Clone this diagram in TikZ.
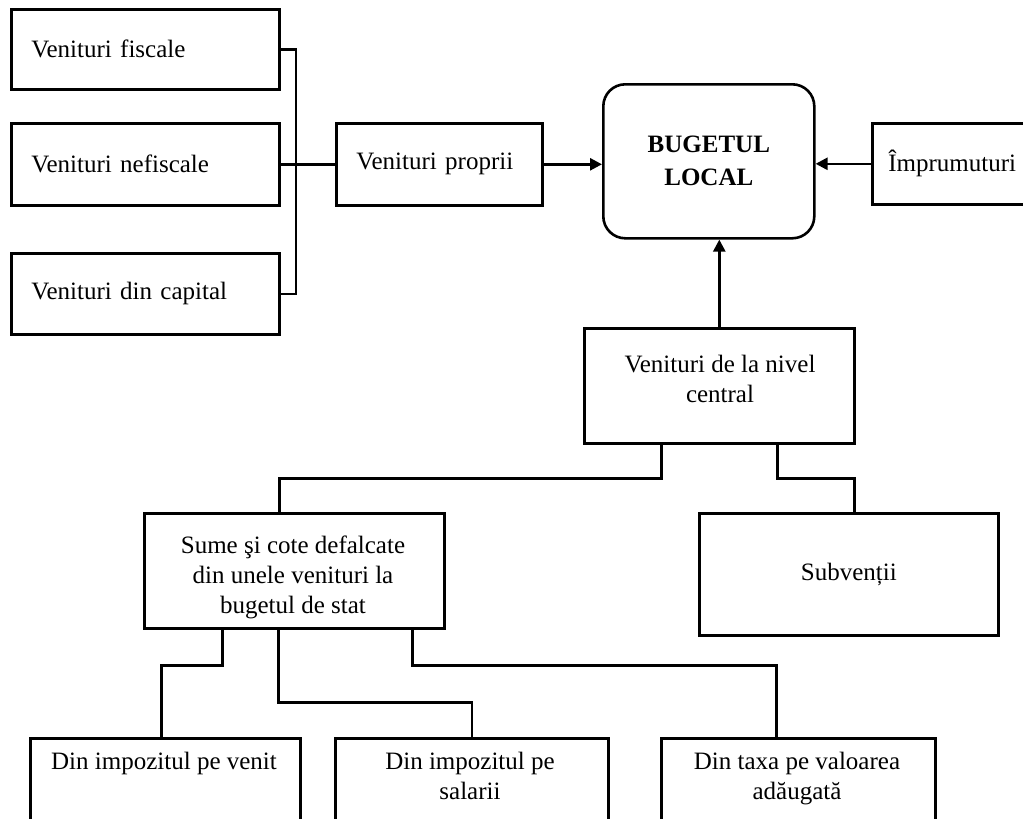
\documentclass[tikz,border=0pt]{standalone}
\usepackage{fontspec}
\setmainfont{Liberation Serif}
\usetikzlibrary{arrows.meta}

\tikzset{
	lbox/.style={draw, anchor=north west, inner xsep=10pt, inner ysep=0pt, align=left},
	rbox/.style={draw, anchor=north west, inner sep=0pt},
	txt/.style={inner sep=0pt, align=center}
}

\begin{document}
\begin{tikzpicture}[x=0.5pt, y=-0.5pt, line width=1.3pt, font=\fontsize{12.5}{15}\selectfont]
	\def\tw{114pt};
	\useasboundingbox (0,0) rectangle (1023,819);

	% venituri proprii
	\node [lbox, text width=\tw, minimum height=40pt] (fisc) at (10,8) {Venituri fiscale};
	\node [lbox, text width=\tw, minimum height=41pt] (nefisc) at (10,122) {Venituri nefiscale};
	\node [lbox, text width=\tw, minimum height=40.5pt] (capital) at (10,252) {Venituri din capital};
	\node [lbox, text width=83pt, minimum height=41pt] (proprii) at (335,122) {Venituri proprii};
	\coordinate (bus) at (296,162);

	\draw (fisc.east) -| (bus);
	\draw (capital.east) -| (bus);
	\draw (nefisc.east) -- (proprii.west);

	% bugetul local
	\node [rbox, rounded corners=11pt, minimum width=105.5pt, minimum height=77pt, align=center,
		font=\fontsize{12.5}{16.5}\selectfont\bfseries] (buget) at (602,83) {BUGETUL\\LOCAL};
	\node [lbox, inner xsep=8pt, text width=90pt, minimum height=40.5pt] (impr) at (871,122) {Împrumuturi};

	% nivel central
	\node [rbox, minimum width=135pt, minimum height=57.5pt] (central) at (583,327) {};
	\node [txt] (centralT) at (720,379) {Venituri de la nivel\\central};
	\node [rbox, minimum width=150pt, minimum height=57.5pt] (sume) at (143,512) {};
	\node [txt] (sumeT) at (293,577) {Sume şi cote defalcate\\din unele venituri la\\bugetul de stat};
	\node [rbox, minimum width=149.5pt, minimum height=61pt] (subv) at (698,512) {Subvenții};

	\begin{scope}[-{Triangle[length=6pt, width=6pt]}]
		\draw (proprii.east) -- (proprii.east -| buget.west);
		\draw (impr.west) -- (impr.west -| buget.east);
		\draw (central.north) -- (central.north |- buget.south);
	\end{scope}

	\draw ([xshift=-29pt]central.south) -- ++(0,34) -| ([xshift=-7.5pt]sume.north);
	\draw ([xshift=29pt]central.south) -- ++(0,34) -| ([xshift=2.75pt]subv.north);

	% sume defalcate
	\node [rbox, minimum width=135pt, minimum height=50pt] (venit) at (29,737) {};
	\node [txt, anchor=north] (venitT) at (164,751) {Din impozitul pe venit};
	\node [rbox, minimum width=136.5pt, minimum height=50pt] (salarii) at (334,737) {};
	\node [txt, anchor=north] (salariiT) at (470,751) {Din impozitul pe\\salarii};
	\node [rbox, minimum width=137pt, minimum height=50pt] (taxa) at (660,737) {};
	\node [txt, anchor=north] (taxaT) at (797,751) {Din taxa pe valoarea\\adăugată};

	\draw ([xshift=-36pt]sume.south) -- ++(0,36) -| ([xshift=-2pt]venit.north);
	\draw ([xshift=-8pt]sume.south) -- ++(0,73) -| (salarii.north);
	\draw ([xshift=59pt]sume.south) -- ++(0,36) -| ([xshift=-11pt]taxa.north);
\end{tikzpicture}
\end{document}
